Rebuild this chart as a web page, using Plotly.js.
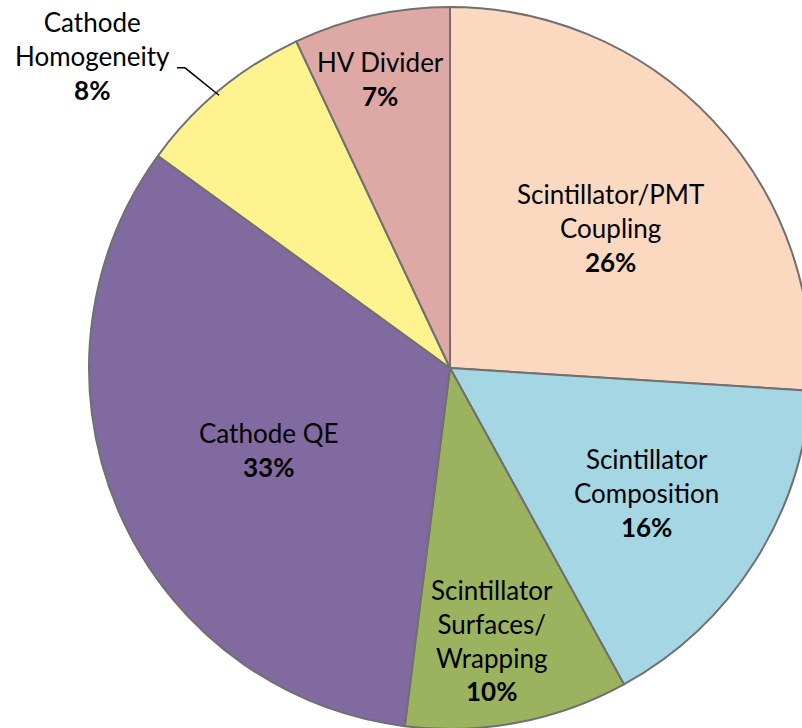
<!DOCTYPE html>
<html>
<head>
<meta charset="utf-8">
<script src="https://cdn.plot.ly/plotly-3.0.1.min.js"></script>
<style>
  html, body { margin: 0; padding: 0; overflow: hidden; background: #fff; }
  #chart { width: 900px; height: 736px; }
</style>
</head>
<body>
<div id="chart"></div>
<script>
// slices, clockwise from 12 o'clock
const labels = [
  "Scintillator/PMT<br>Coupling",
  "Scintillator<br>Composition",
  "Scintillator<br>Surfaces/<br>Wrapping",
  "Cathode QE",
  "Cathode<br>Homogeneity",
  "HV Divider",
];
const values = [26, 16, 10, 33, 8, 7];
const colors = ["#FAD9C0", "#A4D6E3", "#9BB35F", "#806AA0", "#FFF38F", "#DEA8A5"];

// where each label sits (page pixels)
const labelPos = [
  [610, 225],
  [646, 495],
  [492, 646],
  [268, 452],
  [92, 50],
  [380, 73],
];

const W = 900;
const H = 736;
const total = values.reduce((a, b) => a + b, 0);
const px = (x, y) => ({ x: x / W, y: 1 - y / H });

const annotations = labels.map((lab, i) => {
  const pct = Math.round((values[i] / total) * 100);
  const p = px(...labelPos[i]);
  return {
    xref: "paper",
    yref: "paper",
    x: p.x,
    y: p.y,
    xanchor: "center",
    yanchor: "middle",
    align: "center",
    showarrow: false,
    text: lab + "<br><b>" + pct + "%</b>",
    font: { family: "Lato, 'Open Sans', sans-serif", size: 26, color: "#000" },
  };
});

// leader line for the outside label
const a = px(177, 62), b = px(185, 62), c = px(219, 90);

Plotly.newPlot(
  "chart",
  [
    {
      type: "pie",
      labels: labels,
      values: values,
      sort: false,
      direction: "clockwise",
      rotation: 0,
      textinfo: "none",
      hoverinfo: "none",
      marker: { colors: colors, line: { color: "#707070", width: 2 } },
      domain: { x: [0, 1], y: [0, 1] },
    },
  ],
  {
    width: W,
    height: H,
    margin: { l: 0, r: 0, t: 7, b: 7 },
    showlegend: false,
    paper_bgcolor: "#fff",
    annotations: annotations,
    shapes: [
      {
        type: "path",
        xref: "paper",
        yref: "paper",
        path: `M ${a.x} ${a.y} L ${b.x} ${b.y} L ${c.x} ${c.y}`,
        line: { color: "#000", width: 1.5 },
      },
    ],
  },
  { staticPlot: true }
);
</script>
</body>
</html>
